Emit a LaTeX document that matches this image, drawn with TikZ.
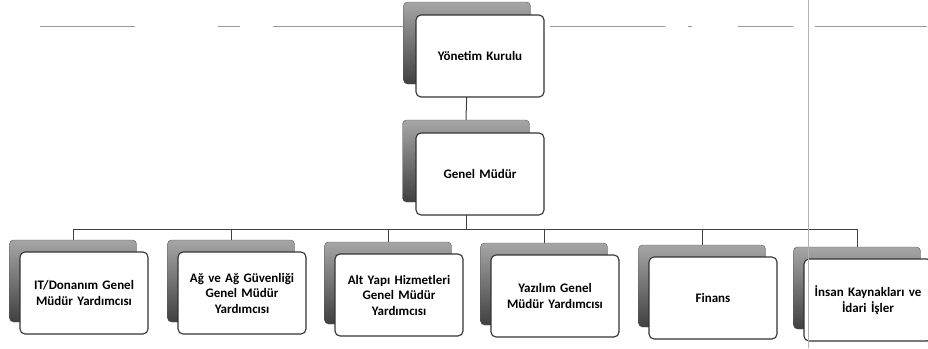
\documentclass[tikz,border=0pt]{standalone}
\usepackage{fontspec}
\setmainfont{Carlito}
\usetikzlibrary{backgrounds}

\tikzset{
  backbox/.style={draw=black!65,rounded corners=4pt,top color=black!35,bottom color=black!75,
    minimum width=127pt,minimum height=82pt,inner sep=0pt},
  frontbox/.style={draw=black!80,line width=1.1pt,fill=white,rounded corners=5pt,
    minimum width=128pt,minimum height=82pt,inner sep=2pt,text width=124pt,align=center,
    font=\bfseries\fontsize{13}{15.5}\selectfont},
  link/.style={draw=black!75,line width=1pt},
  scantrace/.style={draw=black!40,line width=0.8pt},
}

\begin{document}
\begin{tikzpicture}[x=1pt,y=-1pt]
\useasboundingbox (0,0) rectangle (928,348);
% faint traces of the scanned page
\foreach \a/\b in {40/135,218/240,273/405,550/665,688/692,738/793,815/927}
  {\draw[scantrace] (\a,26) -- (\b,26);}

% top levels
\node[backbox] (yk-b) at (467,43) {};
\node[frontbox] (yk) at ([shift={(13,13)}]yk-b) {Yönetim Kurulu};
\node[backbox] (gm-b) at (466,161) {};
\node[frontbox] (gm) at ([shift={(14,13)}]gm-b) {Genel Müdür};

% assistant directors
\foreach \n/\x/\y/\t in {1/73/281/{IT/Donanım Genel\\Müdür Yardımcısı},
    2/231/281/{Ağ ve Ağ Güvenliği\\Genel Müdür\\Yardımcısı},
    3/388/283/{Alt Yapı Hizmetleri\\Genel Müdür\\Yardımcısı},
    4/544/284/{Yazılım Genel\\Müdür Yardımcısı},
    5/702/286/{Finans},
    6/857/288/{İnsan Kaynakları ve\\İdari İşler}}
  {\node[backbox] (c\n-b) at (\x,\y) {};
   \node[frontbox] (c\n) at ([shift={(11,12)}]c\n-b) {\t};}

\begin{scope}[on background layer]
\draw[link] (yk-b.south) -- (gm-b.north);
\path (gm-b.south) ++(0,27) coordinate (bus);
\draw[link] (gm-b.south) -- (bus);
\foreach \n in {1,...,6}
  {\draw[link] (bus) -| (c\n-b.north);}
\end{scope}

\draw[black!30,line width=0.6pt] (808,0) -- (808,348);
\end{tikzpicture}
\end{document}
